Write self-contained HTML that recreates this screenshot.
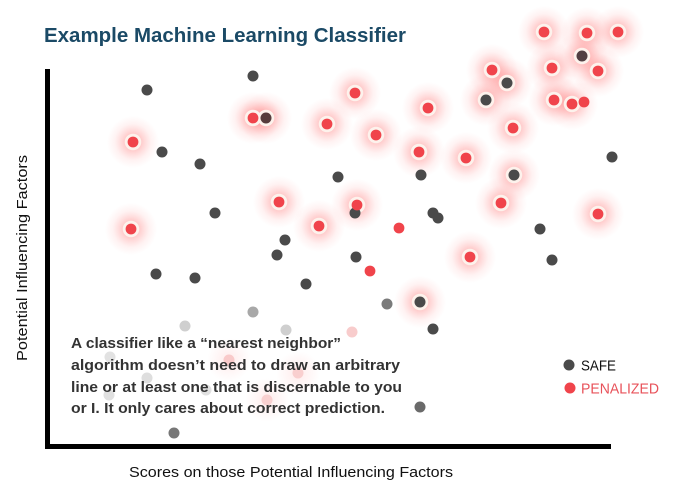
<!DOCTYPE html>
<html>
<head>
<meta charset="utf-8">
<style>
  html, body { margin: 0; padding: 0; background: #ffffff; }
  svg { display: block; }
  text { font-family: "Liberation Sans", "DejaVu Sans", sans-serif; }
</style>
</head>
<body>
<svg width="680" height="502" viewBox="0 0 680 502" xmlns="http://www.w3.org/2000/svg">
  <defs>
    <radialGradient id="glow">
      <stop offset="0" stop-color="#ff5a5a" stop-opacity="0.55"/>
      <stop offset="0.35" stop-color="#ff6a6a" stop-opacity="0.32"/>
      <stop offset="0.7" stop-color="#ff8080" stop-opacity="0.1"/>
      <stop offset="1" stop-color="#ff8080" stop-opacity="0"/>
    </radialGradient>
    <radialGradient id="glowfaint">
      <stop offset="0" stop-color="#ff8a8a" stop-opacity="0.18"/>
      <stop offset="1" stop-color="#ff9a9a" stop-opacity="0"/>
    </radialGradient>
  </defs>
  <rect width="680" height="502" fill="#ffffff"/>

  <!-- Title -->
  <text x="44" y="42" font-size="20" font-weight="bold" fill="#1b4a66" textLength="362" lengthAdjust="spacingAndGlyphs">Example Machine Learning Classifier</text>

  <!-- glows -->
  <g fill="url(#glow)">
    <circle cx="133" cy="142" r="26"/>
    <circle cx="253" cy="118" r="26"/>
    <circle cx="266" cy="118" r="26"/>
    <circle cx="327" cy="124" r="26"/>
    <circle cx="355" cy="93" r="26"/>
    <circle cx="428" cy="108" r="26"/>
    <circle cx="376" cy="135" r="26"/>
    <circle cx="419" cy="152" r="26"/>
    <circle cx="466" cy="158" r="26"/>
    <circle cx="492" cy="70" r="26"/>
    <circle cx="507" cy="83" r="26"/>
    <circle cx="486" cy="100" r="26"/>
    <circle cx="544" cy="32" r="26"/>
    <circle cx="587" cy="33" r="26"/>
    <circle cx="618" cy="32" r="26"/>
    <circle cx="582" cy="56" r="26"/>
    <circle cx="552" cy="68" r="26"/>
    <circle cx="598" cy="71" r="26"/>
    <circle cx="554" cy="100" r="26"/>
    <circle cx="572" cy="104" r="26"/>
    <circle cx="513" cy="128" r="26"/>
    <circle cx="514" cy="175" r="26"/>
    <circle cx="131" cy="229" r="26"/>
    <circle cx="279" cy="202" r="26"/>
    <circle cx="319" cy="226" r="26"/>
    <circle cx="357" cy="205" r="26"/>
    <circle cx="501" cy="203" r="26"/>
    <circle cx="598" cy="214" r="26"/>
    <circle cx="470" cy="257" r="26"/>
    <circle cx="420" cy="302" r="26"/>
  </g>
  <g fill="url(#glowfaint)">
    <circle cx="229" cy="360" r="22"/>
    <circle cx="298" cy="373" r="22"/>
    <circle cx="267" cy="400" r="22"/>
  </g>

  <!-- white rings -->
  <g fill="#fdf2ec">
    <circle cx="133" cy="142" r="8.3"/>
    <circle cx="253" cy="118" r="8.3"/>
    <circle cx="266" cy="118" r="8.3"/>
    <circle cx="327" cy="124" r="8.3"/>
    <circle cx="355" cy="93" r="8.3"/>
    <circle cx="428" cy="108" r="8.3"/>
    <circle cx="376" cy="135" r="8.3"/>
    <circle cx="419" cy="152" r="8.3"/>
    <circle cx="466" cy="158" r="8.3"/>
    <circle cx="492" cy="70" r="8.3"/>
    <circle cx="507" cy="83" r="8.3"/>
    <circle cx="486" cy="100" r="8.3"/>
    <circle cx="544" cy="32" r="8.3"/>
    <circle cx="587" cy="33" r="8.3"/>
    <circle cx="618" cy="32" r="8.3"/>
    <circle cx="582" cy="56" r="8.3"/>
    <circle cx="552" cy="68" r="8.3"/>
    <circle cx="598" cy="71" r="8.3"/>
    <circle cx="554" cy="100" r="8.3"/>
    <circle cx="572" cy="104" r="8.3"/>
    <circle cx="513" cy="128" r="8.3"/>
    <circle cx="514" cy="175" r="8.3"/>
    <circle cx="131" cy="229" r="8.3"/>
    <circle cx="279" cy="202" r="8.3"/>
    <circle cx="319" cy="226" r="8.3"/>
    <circle cx="357" cy="205" r="8.3"/>
    <circle cx="501" cy="203" r="8.3"/>
    <circle cx="598" cy="214" r="8.3"/>
    <circle cx="470" cy="257" r="8.3"/>
    <circle cx="420" cy="302" r="8.3"/>
  </g>

  <!-- faint background dots (behind text) -->
  <g>
    <circle cx="110" cy="357" r="5.5" fill="#e2e2e2"/>
    <circle cx="147" cy="378" r="5.5" fill="#dedede"/>
    <circle cx="109" cy="395" r="5.5" fill="#e0e0e0"/>
    <circle cx="206" cy="390" r="5.5" fill="#e0e0e0"/>
    <circle cx="229" cy="360" r="5.5" fill="#f9caca"/>
    <circle cx="298" cy="373" r="5.5" fill="#f9cfcf"/>
    <circle cx="267" cy="400" r="5.5" fill="#f9d0d0"/>
    <circle cx="352" cy="332" r="5.5" fill="#f8cccc"/>
    <circle cx="185" cy="326" r="5.5" fill="#cfcfcf"/>
    <circle cx="286" cy="330" r="5.5" fill="#cfcfcf"/>
    <circle cx="253" cy="312" r="5.5" fill="#a8a8a8"/>
  </g>

  <!-- dark (safe) dots -->
  <g fill="#4a4a4a">
    <circle cx="147" cy="90" r="5.5"/>
    <circle cx="253" cy="76" r="5.5"/>
    <circle cx="162" cy="152" r="5.5"/>
    <circle cx="200" cy="164" r="5.5"/>
    <circle cx="215" cy="213" r="5.5"/>
    <circle cx="338" cy="177" r="5.5"/>
    <circle cx="421" cy="175" r="5.5"/>
    <circle cx="433" cy="213" r="5.5"/>
    <circle cx="438" cy="218" r="5.5"/>
    <circle cx="285" cy="240" r="5.5"/>
    <circle cx="277" cy="255" r="5.5"/>
    <circle cx="156" cy="274" r="5.5"/>
    <circle cx="195" cy="278" r="5.5"/>
    <circle cx="306" cy="284" r="5.5"/>
    <circle cx="356" cy="257" r="5.5"/>
    <circle cx="355" cy="213" r="5.5"/>
    <circle cx="433" cy="329" r="5.5"/>
    <circle cx="540" cy="229" r="5.5"/>
    <circle cx="552" cy="260" r="5.5"/>
    <circle cx="612" cy="157" r="5.5"/>
    <circle cx="266" cy="118" r="5.5" fill="#573c3c"/>
    <circle cx="507" cy="83" r="5.5"/>
    <circle cx="486" cy="100" r="5.5"/>
    <circle cx="582" cy="56" r="5.5" fill="#523f42"/>
    <circle cx="514" cy="175" r="5.5"/>
    <circle cx="420" cy="302" r="5.5"/>
    <circle cx="387" cy="304" r="5.5" fill="#7a7a7a"/>
    <circle cx="420" cy="407" r="5.5" fill="#6a6a6a"/>
    <circle cx="174" cy="433" r="5.5" fill="#777777"/>
  </g>

  <!-- red (penalized) dots -->
  <g fill="#f0444b">
    <circle cx="133" cy="142" r="5.4"/>
    <circle cx="253" cy="118" r="5.4"/>
    <circle cx="327" cy="124" r="5.4"/>
    <circle cx="355" cy="93" r="5.4"/>
    <circle cx="428" cy="108" r="5.4"/>
    <circle cx="376" cy="135" r="5.4"/>
    <circle cx="419" cy="152" r="5.4"/>
    <circle cx="466" cy="158" r="5.4"/>
    <circle cx="492" cy="70" r="5.4"/>
    <circle cx="544" cy="32" r="5.4"/>
    <circle cx="587" cy="33" r="5.4"/>
    <circle cx="618" cy="32" r="5.4"/>
    <circle cx="552" cy="68" r="5.4"/>
    <circle cx="598" cy="71" r="5.4"/>
    <circle cx="554" cy="100" r="5.4"/>
    <circle cx="572" cy="104" r="5.4"/>
    <circle cx="584" cy="102" r="5.4"/>
    <circle cx="513" cy="128" r="5.4"/>
    <circle cx="131" cy="229" r="5.4"/>
    <circle cx="279" cy="202" r="5.4"/>
    <circle cx="319" cy="226" r="5.4"/>
    <circle cx="357" cy="205" r="5.4"/>
    <circle cx="501" cy="203" r="5.4"/>
    <circle cx="598" cy="214" r="5.4"/>
    <circle cx="470" cy="257" r="5.4"/>
    <circle cx="399" cy="228" r="5.4"/>
    <circle cx="370" cy="271" r="5.4"/>
  </g>

  <!-- Axes -->
  <rect x="45" y="69" width="5" height="380" fill="#000000"/>
  <rect x="45" y="444" width="566" height="5" fill="#000000"/>

  <!-- Axis labels -->
  <text x="129" y="477" font-size="15" fill="#111111" textLength="324" lengthAdjust="spacingAndGlyphs">Scores on those Potential Influencing Factors</text>
  <text transform="translate(27,361) rotate(-90)" x="0" y="0" font-size="15" fill="#111111" textLength="206" lengthAdjust="spacingAndGlyphs">Potential Influencing Factors</text>

  <!-- Annotation -->
  <g font-size="15" font-weight="bold" fill="#333333">
    <text x="71" y="348" textLength="270" lengthAdjust="spacingAndGlyphs">A classifier like a “nearest neighbor”</text>
    <text x="71" y="370" textLength="329" lengthAdjust="spacingAndGlyphs">algorithm doesn’t need to draw an arbitrary</text>
    <text x="71" y="392" textLength="331" lengthAdjust="spacingAndGlyphs">line or at least one that is discernable to you</text>
    <text x="71" y="413" textLength="314" lengthAdjust="spacingAndGlyphs">or I. It only cares about correct prediction.</text>
  </g>

  <!-- Legend -->
  <circle cx="569" cy="365" r="5.5" fill="#4a4a4a"/>
  <text x="581" y="370.5" font-size="15" fill="#111111" textLength="35" lengthAdjust="spacingAndGlyphs">SAFE</text>
  <circle cx="570" cy="388" r="5.5" fill="#f0444b"/>
  <text x="581" y="393.5" font-size="15" fill="#e8525a" textLength="78" lengthAdjust="spacingAndGlyphs">PENALIZED</text>
</svg>
</body>
</html>
